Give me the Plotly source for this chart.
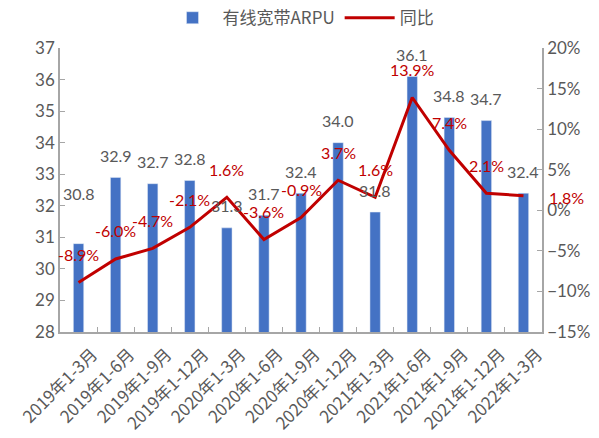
import plotly.graph_objects as go

periodos = ['2019年1-3月', '2019年1-6月', '2019年1-9月', '2019年1-12月',
            '2020年1-3月', '2020年1-6月', '2020年1-9月', '2020年1-12月',
            '2021年1-3月', '2021年1-6月', '2021年1-9月', '2021年1-12月',
            '2022年1-3月']
arpu = [30.8, 32.9, 32.7, 32.8, 31.3, 31.7, 32.4, 34.0, 31.8, 36.1, 34.8, 34.7, 32.4]
tongbi = [-0.089, -0.060, -0.047, -0.021, 0.016, -0.036, -0.009, 0.037, 0.016,
          0.139, 0.074, 0.021, 0.018]

AZUL = '#4472C4'
ROJO = '#C00000'
GRIS = '#595959'
FUENTE = 'Lato, Noto Sans CJK SC, sans-serif'
FUENTE_CJK = 'Noto Sans CJK SC, sans-serif'

fig = go.Figure()

fig.add_trace(go.Bar(x=periodos, y=arpu, name='有线宽带ARPU',
                     marker=dict(color=AZUL), width=0.28, yaxis='y'))
fig.add_trace(go.Scatter(x=periodos, y=tongbi, name='同比', mode='lines',
                         line=dict(color=ROJO, width=3), yaxis='y2'))

# etiquetas de las barras
for i, (p, v) in enumerate(zip(periodos, arpu)):
    fig.add_annotation(x=p, y=v, yref='y', text=f'{v:.1f}', showarrow=False,
                       yshift=50 if i == 0 else 22,
                       font=dict(size=16, color=GRIS, family=FUENTE))

# etiquetas de la linea
for i, (p, v) in enumerate(zip(periodos, tongbi)):
    ultimo = i == len(periodos) - 1
    fig.add_annotation(x=p, y=v, yref='y2', text=f'{v*100:.1f}%', showarrow=False,
                       yshift=-2 if ultimo else 28, xshift=43 if ultimo else 0,
                       font=dict(size=16, color=ROJO, family=FUENTE))

fig.update_layout(
    width=599, height=438,
    margin=dict(l=60, r=57, t=48, b=106, autoexpand=False),
    plot_bgcolor='white', paper_bgcolor='white',
    font=dict(family=FUENTE, color=GRIS),
    legend=dict(orientation='h', x=0.5, xanchor='center', y=1.105, yanchor='middle',
                font=dict(size=17, color=GRIS, family=FUENTE_CJK), itemwidth=50),
    xaxis=dict(type='category', range=[-0.5, 12.5], tickangle=-45, tickson='boundaries',
               ticks='inside', ticklen=5, tickcolor='#A6A6A6', automargin=False,
               ticklabelshift=14, ticklabelstandoff=4,
               showline=True, linecolor='#A6A6A6', linewidth=1.5,
               tickfont=dict(size=17, color=GRIS, family=FUENTE_CJK), showgrid=False),
    yaxis=dict(range=[28, 37], dtick=1, showgrid=False, zeroline=False,
               ticks='inside', ticklen=5, tickcolor='#A6A6A6', automargin=False,
               showline=True, linecolor='#A6A6A6', linewidth=1.5,
               tickfont=dict(size=17, color=GRIS)),
    yaxis2=dict(range=[-0.15, 0.20], dtick=0.05, tickformat='.0%', overlaying='y',
                side='right', showgrid=False, zeroline=False, automargin=False,
                ticks='inside', ticklen=5, tickcolor='#A6A6A6',
                showline=True, linecolor='#A6A6A6', linewidth=1.5,
                tickfont=dict(size=17, color=GRIS)),
)

# quitar el margen por defecto del body
fig.write_html('out.html', config={'displayModeBar': False},
               post_script="document.body.style.margin='0';")
